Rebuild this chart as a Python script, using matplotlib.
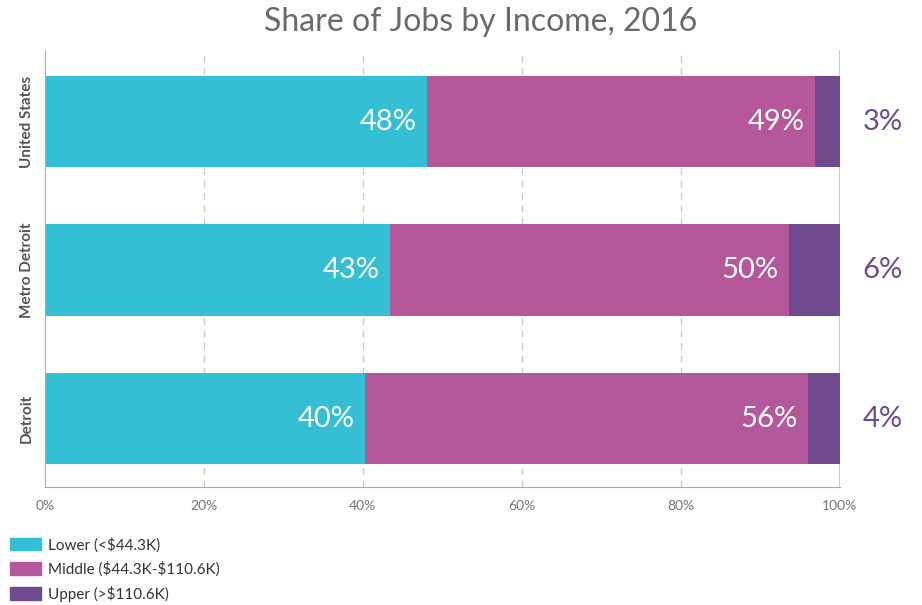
import matplotlib.pyplot as plt
from matplotlib.patches import Patch

plt.rcParams['font.family'] = ['Lato', 'DejaVu Sans']
plt.rcParams['text.parse_math'] = False

# data (percent of jobs)
regions = ["Detroit", "Metro Detroit", "United States"]
lower = [40.3, 43.4, 48.1]
middle = [55.7, 50.2, 48.8]
upper = [4.0, 6.4, 3.1]
lower_lbl = ["40%", "43%", "48%"]
middle_lbl = ["56%", "50%", "49%"]
upper_lbl = ["4%", "6%", "3%"]
series_names = ["Lower (<$44.3K)", "Middle ($44.3K-$110.6K)", "Upper (>$110.6K)"]
xticks = [0, 20, 40, 60, 80, 100]

c_low = "#35bfd5"
c_mid = "#b5579b"
c_up = "#6f4a8e"

fig = plt.figure(figsize=(9.22, 6.05), dpi=100)
ax = fig.add_axes([0.0488, 0.195, 0.862, 0.722])

y = list(range(len(regions)))
h = 0.615
ax.barh(y, lower, height=h, color=c_low)
ax.barh(y, middle, height=h, left=lower, color=c_mid)
left3 = [a + b for a, b in zip(lower, middle)]
ax.barh(y, upper, height=h, left=left3, color=c_up)

for i in y:
    ax.text(lower[i] - 1.3, i, lower_lbl[i], ha="right", va="center",
            color="white", fontsize=21)
    ax.text(left3[i] - 1.3, i, middle_lbl[i], ha="right", va="center",
            color="white", fontsize=21)
    ax.text(105.4, i, upper_lbl[i], ha="center", va="center",
            color=c_up, fontsize=21, clip_on=False)

ax.set_xlim(0, 100)
ax.set_ylim(-0.46, 2.48)
ax.set_xticks(xticks)
ax.set_xticklabels(["%d%%" % t for t in xticks], color="#777777", fontsize=10)
ax.set_yticks(y)
ax.set_yticklabels(regions, rotation=90, va="center", fontsize=11,
                   fontweight="bold", color="#555555")
ax.tick_params(length=0)
ax.tick_params(axis="x", pad=9)
ax.tick_params(axis="y", pad=8)

for t in xticks[1:-1]:
    ax.axvline(t, color="#cccccc", lw=1, ls=(0, (5, 4)), zorder=0)
ax.axvline(100, color="#cccccc", lw=1.5, zorder=0)

for s in ["top", "right"]:
    ax.spines[s].set_visible(False)
ax.spines["left"].set_color("#aaaaaa")
ax.spines["bottom"].set_color("#aaaaaa")

fig.text(0.521, 0.963, "Share of Jobs by Income, 2016", ha="center", va="center",
         fontsize=23, color="#6a6a6a")

handles = [Patch(color=c_low), Patch(color=c_mid), Patch(color=c_up)]
leg = fig.legend(handles, series_names, loc="lower left", bbox_to_anchor=(0.008, 0.0),
                 borderaxespad=0.0, borderpad=0.2,
                 frameon=False, fontsize=11, handlelength=2.0, handleheight=0.9,
                 handletextpad=0.45, labelspacing=0.6)
for t in leg.get_texts():
    t.set_color("#333333")

fig.savefig("out.png", dpi=100)
